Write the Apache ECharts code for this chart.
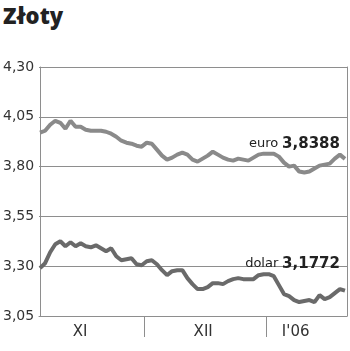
<!DOCTYPE html>
<html>
<head>
<meta charset="utf-8">
<script src="https://cdn.jsdelivr.net/npm/echarts@6/dist/echarts.min.js"></script>
<style>
  html, body { margin: 0; padding: 0; background: #fff; }
  #title { position: absolute; left: 3px; top: 0px; font: 800 22px "Open Sans", sans-serif; color: #222; }
  #chart { width: 350px; height: 351px; }
</style>
</head>
<body>
<div id="title">Złoty</div>
<div id="chart"></div>
<script>
// kurs euro (notowania dzienne)
const euro = [
  3.97, 3.98, 4.01, 4.03, 4.02, 3.99, 4.03, 4.00, 4.00, 3.985,
  3.98, 3.98, 3.98, 3.975, 3.965, 3.95, 3.93, 3.92, 3.915, 3.905,
  3.90, 3.92, 3.915, 3.885, 3.855, 3.835, 3.845, 3.86, 3.87, 3.86,
  3.835, 3.825, 3.84, 3.855, 3.875, 3.86, 3.845, 3.835, 3.83, 3.84,
  3.835, 3.83, 3.845, 3.86, 3.865, 3.865, 3.865, 3.85, 3.82, 3.80,
  3.805, 3.775, 3.77, 3.775, 3.79, 3.805, 3.81, 3.815, 3.84, 3.86,
  3.8388
]
// kurs dolara
const dolar = [
  3.29, 3.315, 3.37, 3.41, 3.425, 3.40, 3.42, 3.40, 3.415, 3.40,
  3.395, 3.405, 3.39, 3.375, 3.39, 3.35, 3.33, 3.335, 3.34, 3.31,
  3.305, 3.325, 3.33, 3.31, 3.28, 3.255, 3.275, 3.28, 3.28, 3.24,
  3.21, 3.185, 3.185, 3.195, 3.215, 3.215, 3.21, 3.225, 3.235, 3.24,
  3.235, 3.235, 3.235, 3.255, 3.26, 3.26, 3.25, 3.205, 3.16, 3.15,
  3.13, 3.12, 3.125, 3.13, 3.12, 3.155, 3.135, 3.145, 3.165, 3.185,
  3.1772
]
const months = ['XI', 'XII', "I'06"]
const monthCenters = [7.9, 32.1, 50.3]   // w jednostkach indeksu notowania
const monthBounds = [20.5, 44.5]
const yTicks = [3.05, 3.30, 3.55, 3.80, 4.05, 4.30]

const grey = '#8e8e8e'
const chart = echarts.init(document.getElementById('chart'))

function fmt(v) {
  return v.toFixed(2).replace('.', ',')
}

function endLabel(name, dy) {
  return {
    show: true,
    align: 'right',
    verticalAlign: 'middle',
    offset: [-13, dy],
    formatter: p => '{a|' + name + '} {b|' + p.value[1].toFixed(4).replace('.', ',') + '}',
    rich: {
      a: { fontSize: 13, color: '#222' },
      b: { fontSize: 15, fontWeight: 'bold', color: '#222' }
    }
  }
}

chart.setOption({
  animation: false,
  textStyle: { fontFamily: 'DejaVu Sans' },
  grid: { left: 39, right: 3, top: 67, bottom: 35 },
  xAxis: {
    type: 'value',
    min: -0.2,
    max: 60.4,
    axisLine: { show: true, lineStyle: { color: grey, width: 1 } },
    splitLine: { show: false },
    axisTick: {
      show: true,
      customValues: monthBounds,
      length: 21,
      lineStyle: { color: grey, width: 1 }
    },
    axisLabel: {
      customValues: monthCenters,
      margin: 9,
      fontSize: 15,
      color: '#333',
      formatter: v => months[monthCenters.indexOf(v)] || ''
    }
  },
  yAxis: [
    {
      type: 'value',
      min: yTicks[0],
      max: yTicks[yTicks.length - 1],
      interval: 0.25,
      axisLine: { show: true, lineStyle: { color: grey, width: 1 } },
      axisTick: { show: false },
      splitLine: { show: true, lineStyle: { color: grey, width: 1 } },
      axisLabel: {
        align: 'left',
        margin: 36,
        fontSize: 14,
        color: '#333',
        formatter: fmt
      }
    },
    {
      type: 'value',
      position: 'right',
      min: yTicks[0],
      max: yTicks[yTicks.length - 1],
      axisLine: { show: true, lineStyle: { color: grey, width: 1 } },
      axisTick: { show: false },
      axisLabel: { show: false },
      splitLine: { show: false }
    }
  ],
  series: [
    {
      name: 'euro',
      type: 'line',
      data: euro.map((v, i) => [i, v]),
      showSymbol: false,
      lineStyle: { color: '#8a8a8a', width: 4 },
      endLabel: endLabel('euro', -15)
    },
    {
      name: 'dolar',
      type: 'line',
      data: dolar.map((v, i) => [i, v]),
      showSymbol: false,
      lineStyle: { color: '#6a6a6a', width: 4 },
      endLabel: endLabel('dolar', -27)
    }
  ]
})
</script>
</body>
</html>
